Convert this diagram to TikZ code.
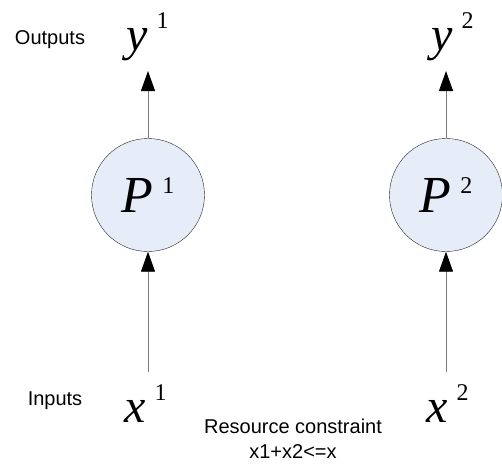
\documentclass[tikz,border=0pt]{standalone}
\usepackage{fontspec}
\setmainfont{Liberation Serif}
\newfontfamily\labelfont{Liberation Sans}
\usetikzlibrary{arrows.meta}
\definecolor{procfill}{RGB}{230,236,248}
\definecolor{linegray}{RGB}{120,120,120}

% letter, superscript, letter size, raise
\newcommand{\bigvar}[4]{{\fontsize{#3}{#3}\selectfont\itshape #1}\hspace{9pt}\raisebox{#4}{\fontsize{24}{24}\selectfont #2}}

\begin{document}
\begin{tikzpicture}[x=1pt,y=-1pt,
  proc/.style={circle,draw=black!85,fill=procfill,minimum size=113pt,inner sep=0pt},
  flow/.style={draw=linegray,line width=0.9pt,-{Triangle[length=20pt,width=14pt,color=black]}},
  lbl/.style={font=\labelfont\fontsize{20}{25}\selectfont,align=center}]
  \useasboundingbox (0,0) rectangle (502,463);
  % processes
  \node[proc] (p1) at (148,195) {\raisebox{-7pt}{\bigvar{P}{1}{52}{19pt}}};
  \node[proc] (p2) at (446,195) {\raisebox{-7pt}{\bigvar{P}{2}{52}{19pt}}};
  % outputs
  \node[anchor=base west,inner sep=0pt] (y1) at (126,50) {\bigvar{y}{1}{48}{22pt}};
  \node[anchor=base west,inner sep=0pt] (y2) at (431,50) {\bigvar{y}{2}{48}{22pt}};
  % inputs
  \node[anchor=base west,inner sep=0pt] (x1) at (124,422) {\bigvar{x}{1}{48}{22pt}};
  \node[anchor=base west,inner sep=0pt] (x2) at (426,422) {\bigvar{x}{2}{48}{22pt}};
  \coordinate (top1) at (148,71);
  \coordinate (top2) at (446,71);
  \coordinate (bot1) at (148,372);
  \coordinate (bot2) at (446,372);
  \draw[flow] (p1.north) -- (top1);
  \draw[flow] (p2.north) -- (top2);
  \draw[flow] (bot1) -- (p1.south);
  \draw[flow] (bot2) -- (p2.south);
  % labels
  \node[lbl] (outlbl) at (50,40) {Outputs};
  \node[lbl] (inlbl) at (55,401) {Inputs};
  \node[lbl] (constr) at (293,439) {Resource constraint\\x1+x2<=x};
\end{tikzpicture}
\end{document}
